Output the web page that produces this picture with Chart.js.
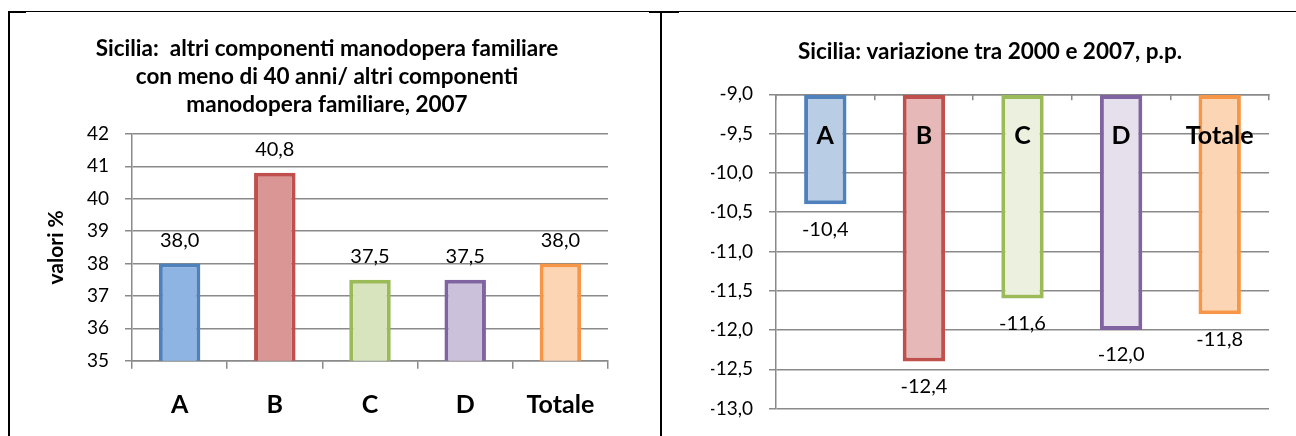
<!DOCTYPE html>
<html>
<head>
<meta charset="utf-8">
<script src="https://cdn.jsdelivr.net/npm/chart.js@4"></script>
<style>
  body { margin: 0; background: #fff; width: 1296px; height: 436px; overflow: hidden; position: relative; }
  canvas { position: absolute; }
  .linea { position: absolute; background: #000; }
</style>
</head>
<body>
<div class="linea" style="left:8px;top:11px;width:1288px;height:1px"></div>
<div class="linea" style="left:8px;top:11px;width:18px;height:2px"></div>
<div class="linea" style="left:649px;top:11px;width:30px;height:2px"></div>
<div class="linea" style="left:8px;top:11px;width:2px;height:425px"></div>
<div class="linea" style="left:660px;top:11px;width:2px;height:425px"></div>

<canvas id="graficoSx" width="650" height="423" style="left:10px;top:13px"></canvas>
<canvas id="graficoDx" width="634" height="423" style="left:662px;top:13px"></canvas>

<script>
  // dati
  const categorie = ['A', 'B', 'C', 'D', 'Totale'];
  const quota2007 = [38.0, 40.8, 37.5, 37.5, 38.0];
  const variazione = [-10.4, -12.4, -11.6, -12.0, -11.8];
  const tickSx = [35, 36, 37, 38, 39, 40, 41, 42];
  const tickDx = [-13.0, -12.5, -12.0, -11.5, -11.0, -10.5, -10.0, -9.5, -9.0];

  const titoloSx = ['Sicilia:  altri componenti manodopera familiare', 'con meno di 40 anni/ altri componenti', 'manodopera familiare, 2007'];
  const titoloDx = 'Sicilia: variazione tra 2000 e 2007, p.p.';

  // colori
  const bordi = ['#4F81BD', '#C0504D', '#9BBB59', '#8064A2', '#F79646'];
  const riempSx = ['#8EB4E3', '#D99694', '#D7E4BD', '#CCC1DA', '#FCD5B5'];
  const riempDx = ['#B9CDE5', '#E6B9B8', '#EBF1DE', '#E5E0EC', '#FCD5B5'];

  const grigio = '#8a8a8a';
  const font = 'Lato';

  const virgola = (v) => Number(v).toFixed(1).replace('.', ',');

  // etichette dei valori sopra/sotto le barre
  const etichetteValori = {
    id: 'etichetteValori',
    afterDatasetsDraw(chart, args, opts) {
      const ctx = chart.ctx;
      const meta = chart.getDatasetMeta(0);
      const dati = chart.data.datasets[0].data;
      ctx.save();
      ctx.font = '20px ' + font;
      ctx.fillStyle = '#000';
      ctx.textAlign = 'center';
      ctx.textBaseline = 'middle';
      meta.data.forEach((bar, i) => {
        const y = opts.sotto ? bar.y + opts.distanza : bar.y - opts.distanza;
        ctx.fillText(virgola(dati[i]), bar.x, y);
      });
      ctx.restore();
    }
  };

  new Chart(document.getElementById('graficoSx'), {
    type: 'bar',
    data: {
      labels: categorie,
      datasets: [{
        data: quota2007,
        backgroundColor: riempSx,
        borderColor: bordi,
        borderWidth: 4,
        borderSkipped: false,
        barPercentage: 0.436,
        categoryPercentage: 1,
      }],
    },
    options: {
      responsive: false,
      animation: false,
      devicePixelRatio: 1,
      layout: { padding: { left: 36, right: 52, top: 0, bottom: 0 } },
      plugins: {
        legend: { display: false },
        tooltip: { enabled: false },
        title: {
          display: true,
          text: titoloSx,
          color: '#000',
          font: { family: font, size: 22.5, weight: 'bold', lineHeight: 1.244 },
          padding: { top: 22, bottom: 15 },
        },
        etichetteValori: { distanza: 23, sotto: false },
      },
      scales: {
        x: {
          grid: { drawOnChartArea: false, offset: true, tickLength: 8, color: grigio, lineWidth: 1.5 },
          border: { color: grigio, width: 1.5 },
          ticks: { color: '#000', font: { family: font, size: 25, weight: 'bold' }, padding: 21 },
          afterFit: (s) => { s.height = 75.3; },
        },
        y: {
          min: tickSx[0],
          max: tickSx[tickSx.length - 1],
          afterBuildTicks: (s) => { s.ticks = tickSx.map(v => ({ value: v })); },
          ticks: { color: '#000', font: { family: font, size: 19 }, padding: 16 },
          grid: { color: grigio, tickLength: 7, lineWidth: 1.5 },
          border: { color: grigio, width: 1.5 },
          title: {
            display: true,
            text: 'valori %',
            color: '#000',
            font: { family: font, size: 21, weight: 'bold' },
            padding: { top: -2, bottom: 0 },
          },
          afterFit: (s) => { s.width = 86; },
        },
      },
    },
    plugins: [etichetteValori],
  });

  new Chart(document.getElementById('graficoDx'), {
    type: 'bar',
    data: {
      labels: categorie,
      datasets: [{
        data: variazione,
        base: tickDx[tickDx.length - 1],
        backgroundColor: riempDx,
        borderColor: bordi,
        borderWidth: 4,
        borderSkipped: false,
        barPercentage: 0.43,
        categoryPercentage: 1,
      }],
    },
    options: {
      responsive: false,
      animation: false,
      devicePixelRatio: 1,
      layout: { padding: { left: 49, right: 27, top: 0, bottom: 25 } },
      plugins: {
        legend: { display: false },
        tooltip: { enabled: false },
        title: {
          display: true,
          text: titoloDx,
          color: '#000',
          font: { family: font, size: 22.5, weight: 'bold' },
          padding: { top: 25.3, bottom: 29 },
        },
        etichetteValori: { distanza: 25, sotto: true },
      },
      scales: {
        x: {
          position: 'top',
          grid: { drawOnChartArea: false, offset: true, tickLength: -6, color: grigio, lineWidth: 1.5 },
          border: { color: grigio, width: 1.5 },
          ticks: { z: 1, mirror: true, color: '#000', font: { family: font, size: 25, weight: 'bold' }, padding: 27 },
          afterFit: (s) => { s.height = 0; },
        },
        y: {
          min: tickDx[0],
          max: tickDx[tickDx.length - 1],
          afterBuildTicks: (s) => { s.ticks = tickDx.map(v => ({ value: v })); },
          ticks: { color: '#000', font: { family: font, size: 19 }, padding: 16, callback: (v) => virgola(v) },
          grid: { color: grigio, tickLength: 7, lineWidth: 1.5 },
          border: { color: grigio, width: 1.5 },
          afterFit: (s) => { s.width = 65; },
        },
      },
    },
    plugins: [etichetteValori],
  });
</script>
</body>
</html>
